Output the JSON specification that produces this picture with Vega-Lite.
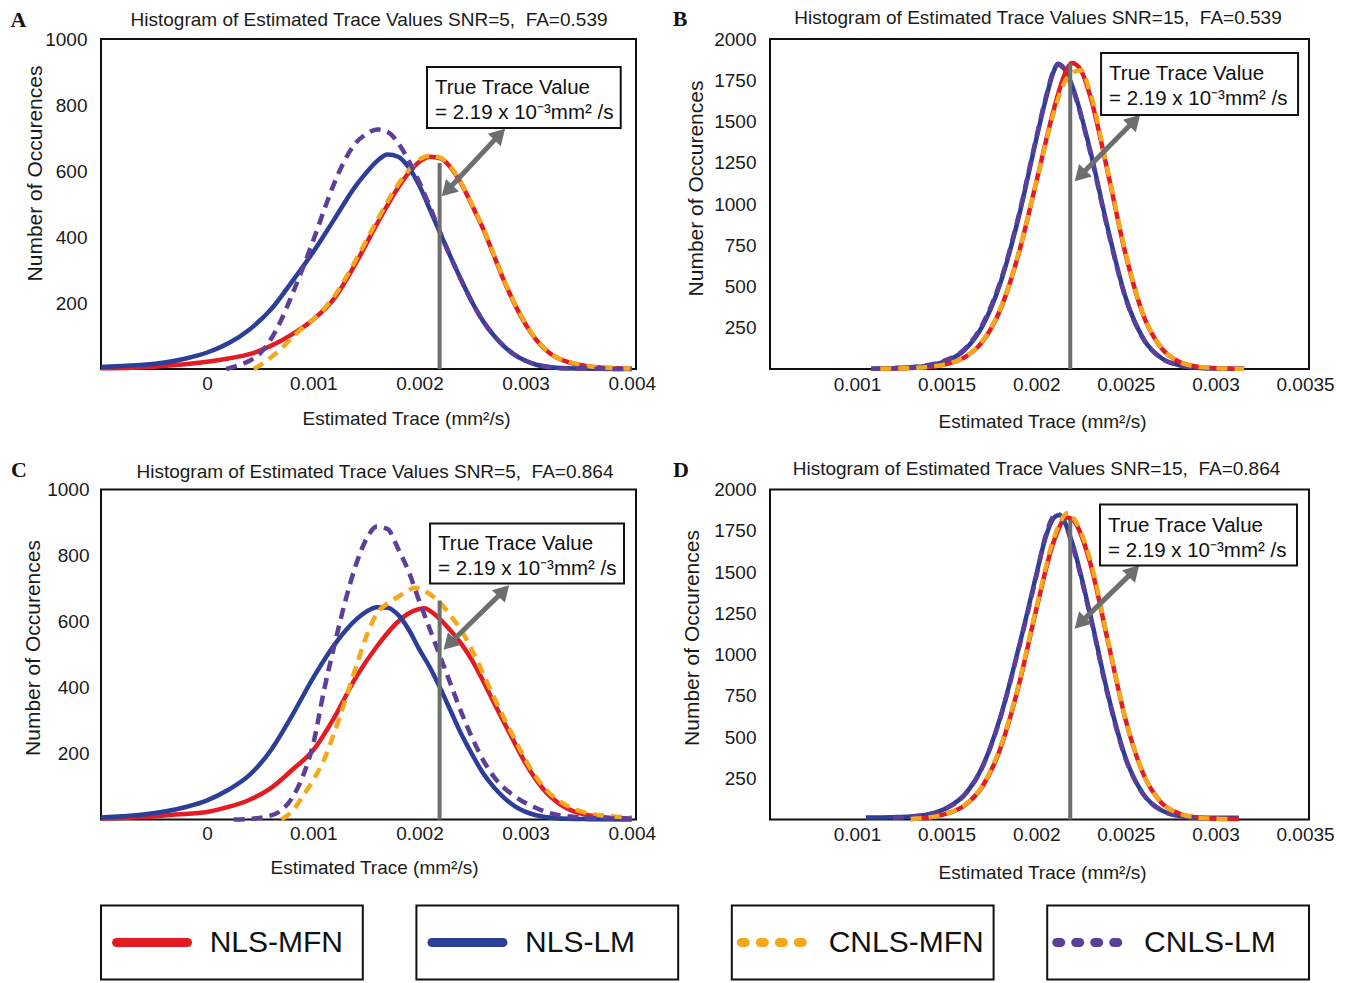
{
"$schema": "https://vega.github.io/schema/vega-lite/v6.json",
"padding": {"left": 9, "top": 7, "right": 5, "bottom": 0},
"spacing": 20.5,
"config": {
  "font": "Liberation Sans",
  "view": {"stroke": "#111111", "strokeWidth": 2},
  "axis": {"grid": false, "domain": false, "ticks": false, "labelFontSize": 19, "labelColor": "#1a1a1a", "titleColor": "#1a1a1a", "titleFontWeight": "normal", "labelFlush": false, "labelOverlap": false},
  "line": {"strokeWidth": 4.5, "interpolate": "monotone"}
},
"datasets": {
"ann": [
 {"p":"A","tx":0.00219,"t0":0,"t1":624,"hx1":0.00226,"hy1":540,"hx2":0.002756,"hy2":711,"bx1":0.002071,"bx2":0.003896,"by1":730,"by2":915,"lx":-0.001,"ly":1000,"cx":0.001525},
 {"p":"B","tx":0.00219,"t0":0,"t1":1855,"hx1":0.002245,"hy1":1171,"hx2":0.00255,"hy2":1507,"bx1":0.002362,"bx2":0.003461,"by1":1539,"by2":1915,"lx":0.000515,"ly":2000,"cx":0.00201},
 {"p":"C","tx":0.00219,"t0":0,"t1":664,"hx1":0.002278,"hy1":531,"hx2":0.002794,"hy2":693,"bx1":0.0021,"bx2":0.003927,"by1":715,"by2":897,"lx":-0.001,"ly":1000,"cx":0.001581},
 {"p":"D","tx":0.00219,"t0":0,"t1":1815,"hx1":0.002245,"hy1":1190,"hx2":0.002545,"hy2":1507,"bx1":0.002356,"bx2":0.003455,"by1":1539,"by2":1909,"lx":0.000515,"ly":2000,"cx":0.002002}
],
"legend": [
 {"m":"NLS-MFN"},{"m":"NLS-LM"},{"m":"CNLS-MFN"},{"m":"CNLS-LM"}
],
"curves": [
 {"p":"A","m":"NLS-MFN","x":-0.001,"y":2},{"p":"A","m":"NLS-MFN","x":-0.0007,"y":4},{"p":"A","m":"NLS-MFN","x":-0.0005,"y":7},{"p":"A","m":"NLS-MFN","x":-0.0003,"y":12},{"p":"A","m":"NLS-MFN","x":0,"y":22},{"p":"A","m":"NLS-MFN","x":0.0002,"y":32},{"p":"A","m":"NLS-MFN","x":0.0004,"y":45},{"p":"A","m":"NLS-MFN","x":0.0006,"y":70},{"p":"A","m":"NLS-MFN","x":0.0008,"y":105},{"p":"A","m":"NLS-MFN","x":0.001,"y":150},{"p":"A","m":"NLS-MFN","x":0.0012,"y":215},{"p":"A","m":"NLS-MFN","x":0.0014,"y":320},{"p":"A","m":"NLS-MFN","x":0.0016,"y":440},{"p":"A","m":"NLS-MFN","x":0.0018,"y":550},{"p":"A","m":"NLS-MFN","x":0.0019,"y":595},{"p":"A","m":"NLS-MFN","x":0.002,"y":628},{"p":"A","m":"NLS-MFN","x":0.0021,"y":643},{"p":"A","m":"NLS-MFN","x":0.0022,"y":638},{"p":"A","m":"NLS-MFN","x":0.0023,"y":608},{"p":"A","m":"NLS-MFN","x":0.0024,"y":558},{"p":"A","m":"NLS-MFN","x":0.0025,"y":493},{"p":"A","m":"NLS-MFN","x":0.0026,"y":425},{"p":"A","m":"NLS-MFN","x":0.0027,"y":345},{"p":"A","m":"NLS-MFN","x":0.0028,"y":265},{"p":"A","m":"NLS-MFN","x":0.0029,"y":195},{"p":"A","m":"NLS-MFN","x":0.003,"y":135},{"p":"A","m":"NLS-MFN","x":0.0031,"y":88},{"p":"A","m":"NLS-MFN","x":0.0032,"y":55},{"p":"A","m":"NLS-MFN","x":0.0033,"y":33},{"p":"A","m":"NLS-MFN","x":0.0034,"y":21},{"p":"A","m":"NLS-MFN","x":0.0035,"y":13},{"p":"A","m":"NLS-MFN","x":0.0036,"y":8},{"p":"A","m":"NLS-MFN","x":0.0038,"y":3},{"p":"A","m":"NLS-MFN","x":0.004,"y":1},
 {"p":"A","m":"CNLS-MFN","x":0.00044,"y":0},{"p":"A","m":"CNLS-MFN","x":0.0005,"y":12},{"p":"A","m":"CNLS-MFN","x":0.0006,"y":35},{"p":"A","m":"CNLS-MFN","x":0.0007,"y":62},{"p":"A","m":"CNLS-MFN","x":0.0008,"y":95},{"p":"A","m":"CNLS-MFN","x":0.0009,"y":125},{"p":"A","m":"CNLS-MFN","x":0.001,"y":150},{"p":"A","m":"CNLS-MFN","x":0.0012,"y":222},{"p":"A","m":"CNLS-MFN","x":0.0014,"y":330},{"p":"A","m":"CNLS-MFN","x":0.0016,"y":450},{"p":"A","m":"CNLS-MFN","x":0.0018,"y":560},{"p":"A","m":"CNLS-MFN","x":0.0019,"y":603},{"p":"A","m":"CNLS-MFN","x":0.002,"y":635},{"p":"A","m":"CNLS-MFN","x":0.0021,"y":646},{"p":"A","m":"CNLS-MFN","x":0.0022,"y":640},{"p":"A","m":"CNLS-MFN","x":0.0023,"y":610},{"p":"A","m":"CNLS-MFN","x":0.0024,"y":560},{"p":"A","m":"CNLS-MFN","x":0.0025,"y":495},{"p":"A","m":"CNLS-MFN","x":0.0026,"y":428},{"p":"A","m":"CNLS-MFN","x":0.0027,"y":348},{"p":"A","m":"CNLS-MFN","x":0.0028,"y":268},{"p":"A","m":"CNLS-MFN","x":0.0029,"y":198},{"p":"A","m":"CNLS-MFN","x":0.003,"y":138},{"p":"A","m":"CNLS-MFN","x":0.0031,"y":90},{"p":"A","m":"CNLS-MFN","x":0.0032,"y":56},{"p":"A","m":"CNLS-MFN","x":0.0033,"y":34},{"p":"A","m":"CNLS-MFN","x":0.0034,"y":22},{"p":"A","m":"CNLS-MFN","x":0.0035,"y":14},{"p":"A","m":"CNLS-MFN","x":0.0036,"y":8},{"p":"A","m":"CNLS-MFN","x":0.0038,"y":3},{"p":"A","m":"CNLS-MFN","x":0.004,"y":1},
 {"p":"A","m":"NLS-LM","x":-0.001,"y":6},{"p":"A","m":"NLS-LM","x":-0.0008,"y":9},{"p":"A","m":"NLS-LM","x":-0.0006,"y":13},{"p":"A","m":"NLS-LM","x":-0.0004,"y":20},{"p":"A","m":"NLS-LM","x":-0.0002,"y":32},{"p":"A","m":"NLS-LM","x":0,"y":50},{"p":"A","m":"NLS-LM","x":0.0002,"y":78},{"p":"A","m":"NLS-LM","x":0.0004,"y":120},{"p":"A","m":"NLS-LM","x":0.0006,"y":180},{"p":"A","m":"NLS-LM","x":0.0008,"y":265},{"p":"A","m":"NLS-LM","x":0.001,"y":355},{"p":"A","m":"NLS-LM","x":0.0012,"y":455},{"p":"A","m":"NLS-LM","x":0.0014,"y":555},{"p":"A","m":"NLS-LM","x":0.0015,"y":595},{"p":"A","m":"NLS-LM","x":0.0016,"y":630},{"p":"A","m":"NLS-LM","x":0.0017,"y":650},{"p":"A","m":"NLS-LM","x":0.0018,"y":643},{"p":"A","m":"NLS-LM","x":0.0019,"y":610},{"p":"A","m":"NLS-LM","x":0.002,"y":555},{"p":"A","m":"NLS-LM","x":0.0021,"y":482},{"p":"A","m":"NLS-LM","x":0.0022,"y":408},{"p":"A","m":"NLS-LM","x":0.0023,"y":335},{"p":"A","m":"NLS-LM","x":0.0024,"y":265},{"p":"A","m":"NLS-LM","x":0.0025,"y":200},{"p":"A","m":"NLS-LM","x":0.0026,"y":145},{"p":"A","m":"NLS-LM","x":0.0027,"y":102},{"p":"A","m":"NLS-LM","x":0.0028,"y":68},{"p":"A","m":"NLS-LM","x":0.0029,"y":42},{"p":"A","m":"NLS-LM","x":0.003,"y":25},{"p":"A","m":"NLS-LM","x":0.0031,"y":13},{"p":"A","m":"NLS-LM","x":0.0032,"y":7},{"p":"A","m":"NLS-LM","x":0.0034,"y":2},{"p":"A","m":"NLS-LM","x":0.0036,"y":1},{"p":"A","m":"NLS-LM","x":0.004,"y":0},
 {"p":"A","m":"CNLS-LM","x":0.00018,"y":0},{"p":"A","m":"CNLS-LM","x":0.0003,"y":12},{"p":"A","m":"CNLS-LM","x":0.0004,"y":25},{"p":"A","m":"CNLS-LM","x":0.0005,"y":48},{"p":"A","m":"CNLS-LM","x":0.0006,"y":90},{"p":"A","m":"CNLS-LM","x":0.0007,"y":150},{"p":"A","m":"CNLS-LM","x":0.0008,"y":225},{"p":"A","m":"CNLS-LM","x":0.0009,"y":305},{"p":"A","m":"CNLS-LM","x":0.001,"y":390},{"p":"A","m":"CNLS-LM","x":0.0011,"y":480},{"p":"A","m":"CNLS-LM","x":0.0012,"y":565},{"p":"A","m":"CNLS-LM","x":0.0013,"y":635},{"p":"A","m":"CNLS-LM","x":0.0014,"y":685},{"p":"A","m":"CNLS-LM","x":0.0015,"y":712},{"p":"A","m":"CNLS-LM","x":0.0016,"y":726},{"p":"A","m":"CNLS-LM","x":0.0017,"y":718},{"p":"A","m":"CNLS-LM","x":0.0018,"y":685},{"p":"A","m":"CNLS-LM","x":0.0019,"y":630},{"p":"A","m":"CNLS-LM","x":0.002,"y":565},{"p":"A","m":"CNLS-LM","x":0.0021,"y":490},{"p":"A","m":"CNLS-LM","x":0.0022,"y":410},{"p":"A","m":"CNLS-LM","x":0.0023,"y":335},{"p":"A","m":"CNLS-LM","x":0.0024,"y":265},{"p":"A","m":"CNLS-LM","x":0.0025,"y":200},{"p":"A","m":"CNLS-LM","x":0.0026,"y":145},{"p":"A","m":"CNLS-LM","x":0.0027,"y":102},{"p":"A","m":"CNLS-LM","x":0.0028,"y":68},{"p":"A","m":"CNLS-LM","x":0.0029,"y":42},{"p":"A","m":"CNLS-LM","x":0.003,"y":25},{"p":"A","m":"CNLS-LM","x":0.0031,"y":13},{"p":"A","m":"CNLS-LM","x":0.0032,"y":7},{"p":"A","m":"CNLS-LM","x":0.0034,"y":2},{"p":"A","m":"CNLS-LM","x":0.0036,"y":1},{"p":"A","m":"CNLS-LM","x":0.004,"y":0},

 {"p":"C","m":"NLS-MFN","x":-0.001,"y":3},{"p":"C","m":"NLS-MFN","x":-0.0007,"y":6},{"p":"C","m":"NLS-MFN","x":-0.0005,"y":10},{"p":"C","m":"NLS-MFN","x":-0.0003,"y":15},{"p":"C","m":"NLS-MFN","x":0,"y":23},{"p":"C","m":"NLS-MFN","x":0.0002,"y":38},{"p":"C","m":"NLS-MFN","x":0.0004,"y":60},{"p":"C","m":"NLS-MFN","x":0.0006,"y":95},{"p":"C","m":"NLS-MFN","x":0.0008,"y":150},{"p":"C","m":"NLS-MFN","x":0.001,"y":210},{"p":"C","m":"NLS-MFN","x":0.0012,"y":310},{"p":"C","m":"NLS-MFN","x":0.0014,"y":430},{"p":"C","m":"NLS-MFN","x":0.0016,"y":525},{"p":"C","m":"NLS-MFN","x":0.0018,"y":600},{"p":"C","m":"NLS-MFN","x":0.0019,"y":625},{"p":"C","m":"NLS-MFN","x":0.002,"y":638},{"p":"C","m":"NLS-MFN","x":0.00205,"y":640},{"p":"C","m":"NLS-MFN","x":0.0021,"y":632},{"p":"C","m":"NLS-MFN","x":0.0022,"y":605},{"p":"C","m":"NLS-MFN","x":0.0023,"y":570},{"p":"C","m":"NLS-MFN","x":0.0024,"y":530},{"p":"C","m":"NLS-MFN","x":0.0025,"y":480},{"p":"C","m":"NLS-MFN","x":0.0026,"y":420},{"p":"C","m":"NLS-MFN","x":0.0027,"y":355},{"p":"C","m":"NLS-MFN","x":0.0028,"y":292},{"p":"C","m":"NLS-MFN","x":0.0029,"y":230},{"p":"C","m":"NLS-MFN","x":0.003,"y":170},{"p":"C","m":"NLS-MFN","x":0.0031,"y":120},{"p":"C","m":"NLS-MFN","x":0.0032,"y":80},{"p":"C","m":"NLS-MFN","x":0.0033,"y":52},{"p":"C","m":"NLS-MFN","x":0.0034,"y":32},{"p":"C","m":"NLS-MFN","x":0.0035,"y":20},{"p":"C","m":"NLS-MFN","x":0.0036,"y":12},{"p":"C","m":"NLS-MFN","x":0.0038,"y":5},{"p":"C","m":"NLS-MFN","x":0.004,"y":2},
 {"p":"C","m":"CNLS-MFN","x":0.0007,"y":0},{"p":"C","m":"CNLS-MFN","x":0.0008,"y":25},{"p":"C","m":"CNLS-MFN","x":0.0009,"y":70},{"p":"C","m":"CNLS-MFN","x":0.001,"y":120},{"p":"C","m":"CNLS-MFN","x":0.0011,"y":180},{"p":"C","m":"CNLS-MFN","x":0.0012,"y":265},{"p":"C","m":"CNLS-MFN","x":0.0013,"y":360},{"p":"C","m":"CNLS-MFN","x":0.0014,"y":460},{"p":"C","m":"CNLS-MFN","x":0.0015,"y":555},{"p":"C","m":"CNLS-MFN","x":0.0016,"y":625},{"p":"C","m":"CNLS-MFN","x":0.0017,"y":655},{"p":"C","m":"CNLS-MFN","x":0.0018,"y":675},{"p":"C","m":"CNLS-MFN","x":0.0019,"y":695},{"p":"C","m":"CNLS-MFN","x":0.00195,"y":702},{"p":"C","m":"CNLS-MFN","x":0.002,"y":700},{"p":"C","m":"CNLS-MFN","x":0.0021,"y":682},{"p":"C","m":"CNLS-MFN","x":0.0022,"y":655},{"p":"C","m":"CNLS-MFN","x":0.0023,"y":615},{"p":"C","m":"CNLS-MFN","x":0.0024,"y":570},{"p":"C","m":"CNLS-MFN","x":0.0025,"y":510},{"p":"C","m":"CNLS-MFN","x":0.0026,"y":442},{"p":"C","m":"CNLS-MFN","x":0.0027,"y":372},{"p":"C","m":"CNLS-MFN","x":0.0028,"y":305},{"p":"C","m":"CNLS-MFN","x":0.0029,"y":242},{"p":"C","m":"CNLS-MFN","x":0.003,"y":180},{"p":"C","m":"CNLS-MFN","x":0.0031,"y":128},{"p":"C","m":"CNLS-MFN","x":0.0032,"y":88},{"p":"C","m":"CNLS-MFN","x":0.0033,"y":60},{"p":"C","m":"CNLS-MFN","x":0.0034,"y":40},{"p":"C","m":"CNLS-MFN","x":0.0035,"y":27},{"p":"C","m":"CNLS-MFN","x":0.0036,"y":18},{"p":"C","m":"CNLS-MFN","x":0.0038,"y":10},{"p":"C","m":"CNLS-MFN","x":0.004,"y":6},
 {"p":"C","m":"NLS-LM","x":-0.001,"y":6},{"p":"C","m":"NLS-LM","x":-0.0008,"y":10},{"p":"C","m":"NLS-LM","x":-0.0006,"y":15},{"p":"C","m":"NLS-LM","x":-0.0004,"y":24},{"p":"C","m":"NLS-LM","x":-0.0002,"y":38},{"p":"C","m":"NLS-LM","x":0,"y":58},{"p":"C","m":"NLS-LM","x":0.0002,"y":90},{"p":"C","m":"NLS-LM","x":0.0004,"y":135},{"p":"C","m":"NLS-LM","x":0.0006,"y":210},{"p":"C","m":"NLS-LM","x":0.0008,"y":315},{"p":"C","m":"NLS-LM","x":0.001,"y":430},{"p":"C","m":"NLS-LM","x":0.0012,"y":530},{"p":"C","m":"NLS-LM","x":0.0014,"y":605},{"p":"C","m":"NLS-LM","x":0.0015,"y":630},{"p":"C","m":"NLS-LM","x":0.0016,"y":643},{"p":"C","m":"NLS-LM","x":0.0017,"y":642},{"p":"C","m":"NLS-LM","x":0.0018,"y":620},{"p":"C","m":"NLS-LM","x":0.0019,"y":575},{"p":"C","m":"NLS-LM","x":0.002,"y":515},{"p":"C","m":"NLS-LM","x":0.0021,"y":460},{"p":"C","m":"NLS-LM","x":0.0022,"y":395},{"p":"C","m":"NLS-LM","x":0.0023,"y":325},{"p":"C","m":"NLS-LM","x":0.0024,"y":255},{"p":"C","m":"NLS-LM","x":0.0025,"y":195},{"p":"C","m":"NLS-LM","x":0.0026,"y":140},{"p":"C","m":"NLS-LM","x":0.0027,"y":98},{"p":"C","m":"NLS-LM","x":0.0028,"y":65},{"p":"C","m":"NLS-LM","x":0.0029,"y":40},{"p":"C","m":"NLS-LM","x":0.003,"y":23},{"p":"C","m":"NLS-LM","x":0.0031,"y":13},{"p":"C","m":"NLS-LM","x":0.0032,"y":7},{"p":"C","m":"NLS-LM","x":0.0034,"y":2},{"p":"C","m":"NLS-LM","x":0.0036,"y":1},{"p":"C","m":"NLS-LM","x":0.004,"y":0},
 {"p":"C","m":"CNLS-LM","x":0.00025,"y":0},{"p":"C","m":"CNLS-LM","x":0.0004,"y":2},{"p":"C","m":"CNLS-LM","x":0.00055,"y":8},{"p":"C","m":"CNLS-LM","x":0.0007,"y":28},{"p":"C","m":"CNLS-LM","x":0.0008,"y":65},{"p":"C","m":"CNLS-LM","x":0.0009,"y":130},{"p":"C","m":"CNLS-LM","x":0.001,"y":230},{"p":"C","m":"CNLS-LM","x":0.0011,"y":390},{"p":"C","m":"CNLS-LM","x":0.0012,"y":530},{"p":"C","m":"CNLS-LM","x":0.0013,"y":660},{"p":"C","m":"CNLS-LM","x":0.0014,"y":770},{"p":"C","m":"CNLS-LM","x":0.0015,"y":850},{"p":"C","m":"CNLS-LM","x":0.0016,"y":888},{"p":"C","m":"CNLS-LM","x":0.0017,"y":880},{"p":"C","m":"CNLS-LM","x":0.0018,"y":820},{"p":"C","m":"CNLS-LM","x":0.0019,"y":750},{"p":"C","m":"CNLS-LM","x":0.002,"y":660},{"p":"C","m":"CNLS-LM","x":0.0021,"y":575},{"p":"C","m":"CNLS-LM","x":0.0022,"y":490},{"p":"C","m":"CNLS-LM","x":0.0023,"y":405},{"p":"C","m":"CNLS-LM","x":0.0024,"y":320},{"p":"C","m":"CNLS-LM","x":0.0025,"y":245},{"p":"C","m":"CNLS-LM","x":0.0026,"y":180},{"p":"C","m":"CNLS-LM","x":0.0027,"y":130},{"p":"C","m":"CNLS-LM","x":0.0028,"y":95},{"p":"C","m":"CNLS-LM","x":0.0029,"y":70},{"p":"C","m":"CNLS-LM","x":0.003,"y":50},{"p":"C","m":"CNLS-LM","x":0.0031,"y":35},{"p":"C","m":"CNLS-LM","x":0.0032,"y":22},{"p":"C","m":"CNLS-LM","x":0.0033,"y":14},{"p":"C","m":"CNLS-LM","x":0.0035,"y":7},{"p":"C","m":"CNLS-LM","x":0.0037,"y":4},{"p":"C","m":"CNLS-LM","x":0.004,"y":3},

 {"p":"B","m":"NLS-LM","x":0.00108,"y":2},{"p":"B","m":"NLS-LM","x":0.0012,"y":5},{"p":"B","m":"NLS-LM","x":0.0013,"y":10},{"p":"B","m":"NLS-LM","x":0.0014,"y":22},{"p":"B","m":"NLS-LM","x":0.0015,"y":50},{"p":"B","m":"NLS-LM","x":0.0016,"y":115},{"p":"B","m":"NLS-LM","x":0.0017,"y":260},{"p":"B","m":"NLS-LM","x":0.0018,"y":520},{"p":"B","m":"NLS-LM","x":0.0019,"y":910},{"p":"B","m":"NLS-LM","x":0.002,"y":1390},{"p":"B","m":"NLS-LM","x":0.00205,"y":1620},{"p":"B","m":"NLS-LM","x":0.0021,"y":1810},{"p":"B","m":"NLS-LM","x":0.00212,"y":1850},{"p":"B","m":"NLS-LM","x":0.00215,"y":1830},{"p":"B","m":"NLS-LM","x":0.0022,"y":1720},{"p":"B","m":"NLS-LM","x":0.0023,"y":1330},{"p":"B","m":"NLS-LM","x":0.0024,"y":850},{"p":"B","m":"NLS-LM","x":0.0025,"y":430},{"p":"B","m":"NLS-LM","x":0.0026,"y":180},{"p":"B","m":"NLS-LM","x":0.0027,"y":65},{"p":"B","m":"NLS-LM","x":0.0028,"y":22},{"p":"B","m":"NLS-LM","x":0.0029,"y":8},{"p":"B","m":"NLS-LM","x":0.003,"y":3},{"p":"B","m":"NLS-LM","x":0.00316,"y":1},
 {"p":"B","m":"CNLS-LM","x":0.00108,"y":2},{"p":"B","m":"CNLS-LM","x":0.0012,"y":5},{"p":"B","m":"CNLS-LM","x":0.0013,"y":11},{"p":"B","m":"CNLS-LM","x":0.0014,"y":24},{"p":"B","m":"CNLS-LM","x":0.0015,"y":55},{"p":"B","m":"CNLS-LM","x":0.0016,"y":120},{"p":"B","m":"CNLS-LM","x":0.0017,"y":270},{"p":"B","m":"CNLS-LM","x":0.0018,"y":530},{"p":"B","m":"CNLS-LM","x":0.0019,"y":920},{"p":"B","m":"CNLS-LM","x":0.002,"y":1400},{"p":"B","m":"CNLS-LM","x":0.00205,"y":1630},{"p":"B","m":"CNLS-LM","x":0.0021,"y":1815},{"p":"B","m":"CNLS-LM","x":0.00212,"y":1845},{"p":"B","m":"CNLS-LM","x":0.00215,"y":1825},{"p":"B","m":"CNLS-LM","x":0.0022,"y":1710},{"p":"B","m":"CNLS-LM","x":0.0023,"y":1320},{"p":"B","m":"CNLS-LM","x":0.0024,"y":840},{"p":"B","m":"CNLS-LM","x":0.0025,"y":425},{"p":"B","m":"CNLS-LM","x":0.0026,"y":178},{"p":"B","m":"CNLS-LM","x":0.0027,"y":64},{"p":"B","m":"CNLS-LM","x":0.0028,"y":22},{"p":"B","m":"CNLS-LM","x":0.0029,"y":8},{"p":"B","m":"CNLS-LM","x":0.003,"y":3},{"p":"B","m":"CNLS-LM","x":0.00316,"y":1},
 {"p":"B","m":"NLS-MFN","x":0.00113,"y":2},{"p":"B","m":"NLS-MFN","x":0.0013,"y":6},{"p":"B","m":"NLS-MFN","x":0.0014,"y":13},{"p":"B","m":"NLS-MFN","x":0.0015,"y":30},{"p":"B","m":"NLS-MFN","x":0.0016,"y":70},{"p":"B","m":"NLS-MFN","x":0.0017,"y":165},{"p":"B","m":"NLS-MFN","x":0.0018,"y":360},{"p":"B","m":"NLS-MFN","x":0.0019,"y":690},{"p":"B","m":"NLS-MFN","x":0.002,"y":1130},{"p":"B","m":"NLS-MFN","x":0.0021,"y":1580},{"p":"B","m":"NLS-MFN","x":0.00215,"y":1760},{"p":"B","m":"NLS-MFN","x":0.0022,"y":1855},{"p":"B","m":"NLS-MFN","x":0.00225,"y":1810},{"p":"B","m":"NLS-MFN","x":0.0023,"y":1660},{"p":"B","m":"NLS-MFN","x":0.0024,"y":1190},{"p":"B","m":"NLS-MFN","x":0.0025,"y":690},{"p":"B","m":"NLS-MFN","x":0.0026,"y":320},{"p":"B","m":"NLS-MFN","x":0.0027,"y":125},{"p":"B","m":"NLS-MFN","x":0.0028,"y":42},{"p":"B","m":"NLS-MFN","x":0.0029,"y":14},{"p":"B","m":"NLS-MFN","x":0.003,"y":5},{"p":"B","m":"NLS-MFN","x":0.0031,"y":2},{"p":"B","m":"NLS-MFN","x":0.00316,"y":1},
 {"p":"B","m":"CNLS-MFN","x":0.00113,"y":2},{"p":"B","m":"CNLS-MFN","x":0.0013,"y":6},{"p":"B","m":"CNLS-MFN","x":0.0014,"y":13},{"p":"B","m":"CNLS-MFN","x":0.0015,"y":30},{"p":"B","m":"CNLS-MFN","x":0.0016,"y":72},{"p":"B","m":"CNLS-MFN","x":0.0017,"y":170},{"p":"B","m":"CNLS-MFN","x":0.0018,"y":365},{"p":"B","m":"CNLS-MFN","x":0.0019,"y":695},{"p":"B","m":"CNLS-MFN","x":0.002,"y":1130},{"p":"B","m":"CNLS-MFN","x":0.0021,"y":1560},{"p":"B","m":"CNLS-MFN","x":0.00215,"y":1720},{"p":"B","m":"CNLS-MFN","x":0.0022,"y":1795},{"p":"B","m":"CNLS-MFN","x":0.00225,"y":1810},{"p":"B","m":"CNLS-MFN","x":0.0023,"y":1680},{"p":"B","m":"CNLS-MFN","x":0.0024,"y":1200},{"p":"B","m":"CNLS-MFN","x":0.0025,"y":700},{"p":"B","m":"CNLS-MFN","x":0.0026,"y":325},{"p":"B","m":"CNLS-MFN","x":0.0027,"y":128},{"p":"B","m":"CNLS-MFN","x":0.0028,"y":43},{"p":"B","m":"CNLS-MFN","x":0.0029,"y":14},{"p":"B","m":"CNLS-MFN","x":0.003,"y":5},{"p":"B","m":"CNLS-MFN","x":0.0031,"y":2},{"p":"B","m":"CNLS-MFN","x":0.00316,"y":1},

 {"p":"D","m":"NLS-LM","x":0.00105,"y":12},{"p":"D","m":"NLS-LM","x":0.0012,"y":14},{"p":"D","m":"NLS-LM","x":0.0013,"y":18},{"p":"D","m":"NLS-LM","x":0.0014,"y":32},{"p":"D","m":"NLS-LM","x":0.0015,"y":70},{"p":"D","m":"NLS-LM","x":0.0016,"y":150},{"p":"D","m":"NLS-LM","x":0.0017,"y":320},{"p":"D","m":"NLS-LM","x":0.0018,"y":620},{"p":"D","m":"NLS-LM","x":0.0019,"y":1030},{"p":"D","m":"NLS-LM","x":0.002,"y":1480},{"p":"D","m":"NLS-LM","x":0.00205,"y":1700},{"p":"D","m":"NLS-LM","x":0.0021,"y":1830},{"p":"D","m":"NLS-LM","x":0.00213,"y":1845},{"p":"D","m":"NLS-LM","x":0.00216,"y":1800},{"p":"D","m":"NLS-LM","x":0.0022,"y":1680},{"p":"D","m":"NLS-LM","x":0.0023,"y":1250},{"p":"D","m":"NLS-LM","x":0.0024,"y":760},{"p":"D","m":"NLS-LM","x":0.0025,"y":370},{"p":"D","m":"NLS-LM","x":0.0026,"y":150},{"p":"D","m":"NLS-LM","x":0.0027,"y":55},{"p":"D","m":"NLS-LM","x":0.0028,"y":22},{"p":"D","m":"NLS-LM","x":0.0029,"y":12},{"p":"D","m":"NLS-LM","x":0.003,"y":10},{"p":"D","m":"NLS-LM","x":0.00313,"y":10},
 {"p":"D","m":"CNLS-LM","x":0.0012,"y":10},{"p":"D","m":"CNLS-LM","x":0.0013,"y":17},{"p":"D","m":"CNLS-LM","x":0.0014,"y":30},{"p":"D","m":"CNLS-LM","x":0.0015,"y":68},{"p":"D","m":"CNLS-LM","x":0.0016,"y":148},{"p":"D","m":"CNLS-LM","x":0.0017,"y":318},{"p":"D","m":"CNLS-LM","x":0.0018,"y":615},{"p":"D","m":"CNLS-LM","x":0.0019,"y":1025},{"p":"D","m":"CNLS-LM","x":0.002,"y":1470},{"p":"D","m":"CNLS-LM","x":0.00205,"y":1710},{"p":"D","m":"CNLS-LM","x":0.0021,"y":1840},{"p":"D","m":"CNLS-LM","x":0.00213,"y":1848},{"p":"D","m":"CNLS-LM","x":0.00216,"y":1795},{"p":"D","m":"CNLS-LM","x":0.0022,"y":1670},{"p":"D","m":"CNLS-LM","x":0.0023,"y":1240},{"p":"D","m":"CNLS-LM","x":0.0024,"y":750},{"p":"D","m":"CNLS-LM","x":0.0025,"y":365},{"p":"D","m":"CNLS-LM","x":0.0026,"y":148},{"p":"D","m":"CNLS-LM","x":0.0027,"y":54},{"p":"D","m":"CNLS-LM","x":0.0028,"y":20},{"p":"D","m":"CNLS-LM","x":0.0029,"y":10},
 {"p":"D","m":"NLS-MFN","x":0.0013,"y":3},{"p":"D","m":"NLS-MFN","x":0.0014,"y":12},{"p":"D","m":"NLS-MFN","x":0.0015,"y":35},{"p":"D","m":"NLS-MFN","x":0.0016,"y":85},{"p":"D","m":"NLS-MFN","x":0.0017,"y":200},{"p":"D","m":"NLS-MFN","x":0.0018,"y":430},{"p":"D","m":"NLS-MFN","x":0.0019,"y":800},{"p":"D","m":"NLS-MFN","x":0.002,"y":1270},{"p":"D","m":"NLS-MFN","x":0.0021,"y":1690},{"p":"D","m":"NLS-MFN","x":0.00217,"y":1830},{"p":"D","m":"NLS-MFN","x":0.0022,"y":1820},{"p":"D","m":"NLS-MFN","x":0.0023,"y":1560},{"p":"D","m":"NLS-MFN","x":0.0024,"y":1080},{"p":"D","m":"NLS-MFN","x":0.0025,"y":600},{"p":"D","m":"NLS-MFN","x":0.0026,"y":270},{"p":"D","m":"NLS-MFN","x":0.0027,"y":100},{"p":"D","m":"NLS-MFN","x":0.0028,"y":35},{"p":"D","m":"NLS-MFN","x":0.0029,"y":12},{"p":"D","m":"NLS-MFN","x":0.003,"y":5},{"p":"D","m":"NLS-MFN","x":0.00313,"y":3},
 {"p":"D","m":"CNLS-MFN","x":0.0013,"y":3},{"p":"D","m":"CNLS-MFN","x":0.0014,"y":12},{"p":"D","m":"CNLS-MFN","x":0.0015,"y":36},{"p":"D","m":"CNLS-MFN","x":0.0016,"y":88},{"p":"D","m":"CNLS-MFN","x":0.0017,"y":205},{"p":"D","m":"CNLS-MFN","x":0.0018,"y":440},{"p":"D","m":"CNLS-MFN","x":0.0019,"y":810},{"p":"D","m":"CNLS-MFN","x":0.002,"y":1280},{"p":"D","m":"CNLS-MFN","x":0.0021,"y":1710},{"p":"D","m":"CNLS-MFN","x":0.00218,"y":1860},{"p":"D","m":"CNLS-MFN","x":0.0022,"y":1840},{"p":"D","m":"CNLS-MFN","x":0.0023,"y":1580},{"p":"D","m":"CNLS-MFN","x":0.0024,"y":1090},{"p":"D","m":"CNLS-MFN","x":0.0025,"y":605},{"p":"D","m":"CNLS-MFN","x":0.0026,"y":272},{"p":"D","m":"CNLS-MFN","x":0.0027,"y":100},{"p":"D","m":"CNLS-MFN","x":0.0028,"y":35},{"p":"D","m":"CNLS-MFN","x":0.0029,"y":12},{"p":"D","m":"CNLS-MFN","x":0.003,"y":5},{"p":"D","m":"CNLS-MFN","x":0.0031,"y":3}
]
},
"vconcat": [
{"vconcat": [
{"hconcat": [
{
 "width": 535, "height": 330,
 "layer": [
  {"data": {"name": "curves"}, "transform": [{"filter": "datum.p=='A' && (datum.m=='NLS-MFN' || datum.m=='NLS-LM')"}],
   "mark": {"type": "line"},
   "encoding": {
    "x": {"field": "x", "type": "quantitative", "scale": {"domain": [-0.001, 0.00404], "nice": false, "zero": false}, "axis": {"values": [0, 0.001, 0.002, 0.003, 0.004], "format": "~g", "title": "Estimated Trace (mm²/s)", "titleFontSize": 19, "labelPadding": 5, "titleX": 305, "titleY": 49, "titleBaseline": "middle"}},
    "y": {"field": "y", "type": "quantitative", "scale": {"domain": [0, 1000], "nice": false}, "axis": {"values": [200, 400, 600, 800, 1000], "format": "d", "title": "Number of Occurences", "titleFontSize": 21, "labelPadding": 14, "titleX": -56, "titleY": 134}},
    "color": {"field": "m", "type": "nominal", "scale": {"domain": ["NLS-MFN", "NLS-LM", "CNLS-MFN", "CNLS-LM"], "range": ["#e31b23", "#2b3f98", "#f6a81c", "#5c3f99"]}, "legend": null}
   }},
  {"data": {"name": "curves"}, "transform": [{"filter": "datum.p=='A' && (datum.m=='CNLS-MFN' || datum.m=='CNLS-LM')"}],
   "mark": {"type": "line", "strokeDash": [11, 7]},
   "encoding": {"x": {"field": "x", "type": "quantitative"}, "y": {"field": "y", "type": "quantitative"}, "color": {"field": "m", "type": "nominal", "legend": null}}},
  {"data": {"name": "ann"}, "transform": [{"filter": "datum.p=='A'"}],
   "layer": [
    {"mark": {"type": "rule", "color": "#6d6e70", "strokeWidth": 4}, "encoding": {"x": {"field": "tx", "type": "quantitative"}, "y": {"field": "t0", "type": "quantitative"}, "y2": {"field": "t1"}}},
    {"mark": {"type": "rule", "color": "#6d6e70", "strokeWidth": 5}, "encoding": {"x": {"field": "hx1", "type": "quantitative"}, "y": {"field": "hy1", "type": "quantitative"}, "x2": {"field": "hx2"}, "y2": {"field": "hy2"}}},
    {"mark": {"type": "point", "shape": "triangle-up", "size": 320, "filled": true, "opacity": 1, "color": "#6d6e70", "angle": 44}, "encoding": {"x": {"field": "hx2", "type": "quantitative"}, "y": {"field": "hy2", "type": "quantitative"}}},
    {"mark": {"type": "point", "shape": "triangle-up", "size": 320, "filled": true, "opacity": 1, "color": "#6d6e70", "angle": 224}, "encoding": {"x": {"field": "hx1", "type": "quantitative"}, "y": {"field": "hy1", "type": "quantitative"}}},
    {"mark": {"type": "rect", "fill": "white", "stroke": "#111111", "strokeWidth": 2}, "encoding": {"x": {"field": "bx1", "type": "quantitative"}, "x2": {"field": "bx2"}, "y": {"field": "by1", "type": "quantitative"}, "y2": {"field": "by2"}}},
    {"mark": {"type": "text", "text": ["True Trace Value", "= 2.19 x 10⁻³mm² /s"], "align": "left", "baseline": "alphabetic", "dx": 8, "dy": 27, "fontSize": 20.5, "lineHeight": 25, "color": "#111111"}, "encoding": {"x": {"field": "bx1", "type": "quantitative"}, "y": {"field": "by2", "type": "quantitative"}}},
    {"mark": {"type": "text", "text": "Histogram of Estimated Trace Values SNR=5,\u00a0 FA=0.539", "align": "center", "baseline": "alphabetic", "dy": -13, "fontSize": 19, "color": "#1a1a1a"}, "encoding": {"x": {"field": "cx", "type": "quantitative"}, "y": {"field": "ly", "type": "quantitative"}}},
    {"mark": {"type": "text", "text": "A", "font": "Liberation Serif", "fontWeight": "bold", "fontSize": 22, "align": "center", "baseline": "alphabetic", "dx": -82.5, "dy": -12, "color": "#111111"}, "encoding": {"x": {"field": "lx", "type": "quantitative"}, "y": {"field": "ly", "type": "quantitative"}}}
   ]}
 ]
},
{
 "width": 539, "height": 330,
 "layer": [
  {"data": {"name": "curves"}, "transform": [{"filter": "datum.p=='B' && (datum.m=='NLS-MFN' || datum.m=='NLS-LM')"}],
   "mark": {"type": "line"},
   "encoding": {
    "x": {"field": "x", "type": "quantitative", "scale": {"domain": [0.000515, 0.003522], "nice": false, "zero": false}, "axis": {"values": [0.001, 0.0015, 0.002, 0.0025, 0.003, 0.0035], "format": "~g", "title": "Estimated Trace (mm²/s)", "titleFontSize": 19, "labelPadding": 6, "titleX": 272, "titleY": 52, "titleBaseline": "middle"}},
    "y": {"field": "y", "type": "quantitative", "scale": {"domain": [0, 2000], "nice": false}, "axis": {"values": [250, 500, 750, 1000, 1250, 1500, 1750, 2000], "format": "d", "title": "Number of Occurences", "titleFontSize": 21, "labelPadding": 14, "titleX": -64, "titleY": 149}},
    "color": {"field": "m", "type": "nominal", "scale": {"domain": ["NLS-MFN", "NLS-LM", "CNLS-MFN", "CNLS-LM"], "range": ["#e31b23", "#2b3f98", "#f6a81c", "#5c3f99"]}, "legend": null}
   }},
  {"data": {"name": "curves"}, "transform": [{"filter": "datum.p=='B' && (datum.m=='CNLS-MFN' || datum.m=='CNLS-LM')"}],
   "mark": {"type": "line", "strokeDash": [11, 7]},
   "encoding": {"x": {"field": "x", "type": "quantitative"}, "y": {"field": "y", "type": "quantitative"}, "color": {"field": "m", "type": "nominal", "legend": null}}},
  {"data": {"name": "ann"}, "transform": [{"filter": "datum.p=='B'"}],
   "layer": [
    {"mark": {"type": "rule", "color": "#6d6e70", "strokeWidth": 4}, "encoding": {"x": {"field": "tx", "type": "quantitative"}, "y": {"field": "t0", "type": "quantitative"}, "y2": {"field": "t1"}}},
    {"mark": {"type": "rule", "color": "#6d6e70", "strokeWidth": 5}, "encoding": {"x": {"field": "hx1", "type": "quantitative"}, "y": {"field": "hy1", "type": "quantitative"}, "x2": {"field": "hx2"}, "y2": {"field": "hy2"}}},
    {"mark": {"type": "point", "shape": "triangle-up", "size": 320, "filled": true, "opacity": 1, "color": "#6d6e70", "angle": 44}, "encoding": {"x": {"field": "hx2", "type": "quantitative"}, "y": {"field": "hy2", "type": "quantitative"}}},
    {"mark": {"type": "point", "shape": "triangle-up", "size": 320, "filled": true, "opacity": 1, "color": "#6d6e70", "angle": 224}, "encoding": {"x": {"field": "hx1", "type": "quantitative"}, "y": {"field": "hy1", "type": "quantitative"}}},
    {"mark": {"type": "rect", "fill": "white", "stroke": "#111111", "strokeWidth": 2}, "encoding": {"x": {"field": "bx1", "type": "quantitative"}, "x2": {"field": "bx2"}, "y": {"field": "by1", "type": "quantitative"}, "y2": {"field": "by2"}}},
    {"mark": {"type": "text", "text": ["True Trace Value", "= 2.19 x 10⁻³mm² /s"], "align": "left", "baseline": "alphabetic", "dx": 8, "dy": 27, "fontSize": 20.5, "lineHeight": 25, "color": "#111111"}, "encoding": {"x": {"field": "bx1", "type": "quantitative"}, "y": {"field": "by2", "type": "quantitative"}}},
    {"mark": {"type": "text", "text": "Histogram of Estimated Trace Values SNR=15,\u00a0 FA=0.539", "align": "center", "baseline": "alphabetic", "dy": -15, "fontSize": 19, "color": "#1a1a1a"}, "encoding": {"x": {"field": "cx", "type": "quantitative"}, "y": {"field": "ly", "type": "quantitative"}}},
    {"mark": {"type": "text", "text": "B", "font": "Liberation Serif", "fontWeight": "bold", "fontSize": 22, "align": "center", "baseline": "alphabetic", "dx": -90, "dy": -13, "color": "#111111"}, "encoding": {"x": {"field": "lx", "type": "quantitative"}, "y": {"field": "ly", "type": "quantitative"}}}
   ]}
 ]
}
], "spacing": 134, "bounds": "flush"},
{"hconcat": [
{
 "width": 535, "height": 330,
 "layer": [
  {"data": {"name": "curves"}, "transform": [{"filter": "datum.p=='C' && (datum.m=='NLS-MFN' || datum.m=='NLS-LM')"}],
   "mark": {"type": "line"},
   "encoding": {
    "x": {"field": "x", "type": "quantitative", "scale": {"domain": [-0.001, 0.00404], "nice": false, "zero": false}, "axis": {"values": [0, 0.001, 0.002, 0.003, 0.004], "format": "~g", "title": "Estimated Trace (mm²/s)", "titleFontSize": 19, "labelPadding": 5, "titleX": 273, "titleY": 48, "titleBaseline": "middle"}},
    "y": {"field": "y", "type": "quantitative", "scale": {"domain": [0, 1000], "nice": false}, "axis": {"values": [200, 400, 600, 800, 1000], "format": "d", "title": "Number of Occurences", "titleFontSize": 21, "labelPadding": 12, "titleX": -58, "titleY": 158}},
    "color": {"field": "m", "type": "nominal", "scale": {"domain": ["NLS-MFN", "NLS-LM", "CNLS-MFN", "CNLS-LM"], "range": ["#e31b23", "#2b3f98", "#f6a81c", "#5c3f99"]}, "legend": null}
   }},
  {"data": {"name": "curves"}, "transform": [{"filter": "datum.p=='C' && (datum.m=='CNLS-MFN' || datum.m=='CNLS-LM')"}],
   "mark": {"type": "line", "strokeDash": [11, 7]},
   "encoding": {"x": {"field": "x", "type": "quantitative"}, "y": {"field": "y", "type": "quantitative"}, "color": {"field": "m", "type": "nominal", "legend": null}}},
  {"data": {"name": "ann"}, "transform": [{"filter": "datum.p=='C'"}],
   "layer": [
    {"mark": {"type": "rule", "color": "#6d6e70", "strokeWidth": 4}, "encoding": {"x": {"field": "tx", "type": "quantitative"}, "y": {"field": "t0", "type": "quantitative"}, "y2": {"field": "t1"}}},
    {"mark": {"type": "rule", "color": "#6d6e70", "strokeWidth": 5}, "encoding": {"x": {"field": "hx1", "type": "quantitative"}, "y": {"field": "hy1", "type": "quantitative"}, "x2": {"field": "hx2"}, "y2": {"field": "hy2"}}},
    {"mark": {"type": "point", "shape": "triangle-up", "size": 320, "filled": true, "opacity": 1, "color": "#6d6e70", "angle": 44}, "encoding": {"x": {"field": "hx2", "type": "quantitative"}, "y": {"field": "hy2", "type": "quantitative"}}},
    {"mark": {"type": "point", "shape": "triangle-up", "size": 320, "filled": true, "opacity": 1, "color": "#6d6e70", "angle": 224}, "encoding": {"x": {"field": "hx1", "type": "quantitative"}, "y": {"field": "hy1", "type": "quantitative"}}},
    {"mark": {"type": "rect", "fill": "white", "stroke": "#111111", "strokeWidth": 2}, "encoding": {"x": {"field": "bx1", "type": "quantitative"}, "x2": {"field": "bx2"}, "y": {"field": "by1", "type": "quantitative"}, "y2": {"field": "by2"}}},
    {"mark": {"type": "text", "text": ["True Trace Value", "= 2.19 x 10⁻³mm² /s"], "align": "left", "baseline": "alphabetic", "dx": 8, "dy": 27, "fontSize": 20.5, "lineHeight": 25, "color": "#111111"}, "encoding": {"x": {"field": "bx1", "type": "quantitative"}, "y": {"field": "by2", "type": "quantitative"}}},
    {"mark": {"type": "text", "text": "Histogram of Estimated Trace Values SNR=5,\u00a0 FA=0.864", "align": "center", "baseline": "alphabetic", "dy": -12, "fontSize": 19, "color": "#1a1a1a"}, "encoding": {"x": {"field": "cx", "type": "quantitative"}, "y": {"field": "ly", "type": "quantitative"}}},
    {"mark": {"type": "text", "text": "C", "font": "Liberation Serif", "fontWeight": "bold", "fontSize": 22, "align": "center", "baseline": "alphabetic", "dx": -82, "dy": -13, "color": "#111111"}, "encoding": {"x": {"field": "lx", "type": "quantitative"}, "y": {"field": "ly", "type": "quantitative"}}}
   ]}
 ]
},
{
 "width": 539, "height": 330,
 "layer": [
  {"data": {"name": "curves"}, "transform": [{"filter": "datum.p=='D' && (datum.m=='NLS-MFN' || datum.m=='NLS-LM')"}],
   "mark": {"type": "line"},
   "encoding": {
    "x": {"field": "x", "type": "quantitative", "scale": {"domain": [0.000515, 0.003522], "nice": false, "zero": false}, "axis": {"values": [0.001, 0.0015, 0.002, 0.0025, 0.003, 0.0035], "format": "~g", "title": "Estimated Trace (mm²/s)", "titleFontSize": 19, "labelPadding": 6, "titleX": 272, "titleY": 53, "titleBaseline": "middle"}},
    "y": {"field": "y", "type": "quantitative", "scale": {"domain": [0, 2000], "nice": false}, "axis": {"values": [250, 500, 750, 1000, 1250, 1500, 1750, 2000], "format": "d", "title": "Number of Occurences", "titleFontSize": 21, "labelPadding": 14, "titleX": -68, "titleY": 148}},
    "color": {"field": "m", "type": "nominal", "scale": {"domain": ["NLS-MFN", "NLS-LM", "CNLS-MFN", "CNLS-LM"], "range": ["#e31b23", "#2b3f98", "#f6a81c", "#5c3f99"]}, "legend": null}
   }},
  {"data": {"name": "curves"}, "transform": [{"filter": "datum.p=='D' && (datum.m=='CNLS-MFN' || datum.m=='CNLS-LM')"}],
   "mark": {"type": "line", "strokeDash": [11, 7]},
   "encoding": {"x": {"field": "x", "type": "quantitative"}, "y": {"field": "y", "type": "quantitative"}, "color": {"field": "m", "type": "nominal", "legend": null}}},
  {"data": {"name": "ann"}, "transform": [{"filter": "datum.p=='D'"}],
   "layer": [
    {"mark": {"type": "rule", "color": "#6d6e70", "strokeWidth": 4}, "encoding": {"x": {"field": "tx", "type": "quantitative"}, "y": {"field": "t0", "type": "quantitative"}, "y2": {"field": "t1"}}},
    {"mark": {"type": "rule", "color": "#6d6e70", "strokeWidth": 5}, "encoding": {"x": {"field": "hx1", "type": "quantitative"}, "y": {"field": "hy1", "type": "quantitative"}, "x2": {"field": "hx2"}, "y2": {"field": "hy2"}}},
    {"mark": {"type": "point", "shape": "triangle-up", "size": 320, "filled": true, "opacity": 1, "color": "#6d6e70", "angle": 44}, "encoding": {"x": {"field": "hx2", "type": "quantitative"}, "y": {"field": "hy2", "type": "quantitative"}}},
    {"mark": {"type": "point", "shape": "triangle-up", "size": 320, "filled": true, "opacity": 1, "color": "#6d6e70", "angle": 224}, "encoding": {"x": {"field": "hx1", "type": "quantitative"}, "y": {"field": "hy1", "type": "quantitative"}}},
    {"mark": {"type": "rect", "fill": "white", "stroke": "#111111", "strokeWidth": 2}, "encoding": {"x": {"field": "bx1", "type": "quantitative"}, "x2": {"field": "bx2"}, "y": {"field": "by1", "type": "quantitative"}, "y2": {"field": "by2"}}},
    {"mark": {"type": "text", "text": ["True Trace Value", "= 2.19 x 10⁻³mm² /s"], "align": "left", "baseline": "alphabetic", "dx": 8, "dy": 27, "fontSize": 20.5, "lineHeight": 25, "color": "#111111"}, "encoding": {"x": {"field": "bx1", "type": "quantitative"}, "y": {"field": "by2", "type": "quantitative"}}},
    {"mark": {"type": "text", "text": "Histogram of Estimated Trace Values SNR=15,\u00a0 FA=0.864", "align": "center", "baseline": "alphabetic", "dy": -15, "fontSize": 19, "color": "#1a1a1a"}, "encoding": {"x": {"field": "cx", "type": "quantitative"}, "y": {"field": "ly", "type": "quantitative"}}},
    {"mark": {"type": "text", "text": "D", "font": "Liberation Serif", "fontWeight": "bold", "fontSize": 22, "align": "center", "baseline": "alphabetic", "dx": -89, "dy": -13, "color": "#111111"}, "encoding": {"x": {"field": "lx", "type": "quantitative"}, "y": {"field": "ly", "type": "quantitative"}}}
   ]}
 ]
}
], "spacing": 134, "bounds": "flush"}
], "spacing": 25.5},
{
 "width": 1208, "height": 74,
 "view": {"stroke": null},
 "data": {"name": "legend"},
 "encoding": {
  "x": {"field": "m", "type": "nominal", "sort": null, "scale": {"domain": ["NLS-MFN", "NLS-LM", "CNLS-MFN", "CNLS-LM"], "paddingInner": 0.17, "paddingOuter": 0}, "axis": null}
 },
 "layer": [
  {"mark": {"type": "rect", "fill": "white", "stroke": "#111111", "strokeWidth": 2}},
  {"transform": [{"filter": "datum.m=='NLS-MFN' || datum.m=='NLS-LM'"}],
   "mark": {"type": "point", "shape": "M-1,0L1,0", "size": 5041, "filled": false, "opacity": 1, "strokeWidth": 9, "strokeCap": "round"},
   "encoding": {"x": {"field": "m", "type": "nominal", "bandPosition": 0.195}, "color": {"field": "m", "type": "nominal", "scale": {"domain": ["NLS-MFN", "NLS-LM", "CNLS-MFN", "CNLS-LM"], "range": ["#e31b23", "#2b3f98", "#f6a81c", "#5c3f99"]}, "legend": null}}},
  {"transform": [{"filter": "datum.m=='CNLS-MFN' || datum.m=='CNLS-LM'"}],
   "mark": {"type": "point", "shape": "M-1,0L1,0", "size": 4900, "filled": false, "opacity": 1, "strokeWidth": 9, "strokeCap": "round", "strokeDash": [4, 15]},
   "encoding": {"x": {"field": "m", "type": "nominal", "bandPosition": 0.17}, "color": {"field": "m", "type": "nominal", "legend": null}}},
  {"transform": [{"filter": "datum.m=='NLS-MFN' || datum.m=='NLS-LM'"}],
   "mark": {"type": "text", "align": "left", "baseline": "middle", "fontSize": 30, "color": "#111111"},
   "encoding": {"x": {"field": "m", "type": "nominal", "bandPosition": 0.415}, "text": {"field": "m", "type": "nominal"}}},
  {"transform": [{"filter": "datum.m=='CNLS-MFN' || datum.m=='CNLS-LM'"}],
   "mark": {"type": "text", "align": "left", "baseline": "middle", "fontSize": 30, "color": "#111111"},
   "encoding": {"x": {"field": "m", "type": "nominal", "bandPosition": 0.37}, "text": {"field": "m", "type": "nominal"}}}
 ]
}
]
}
